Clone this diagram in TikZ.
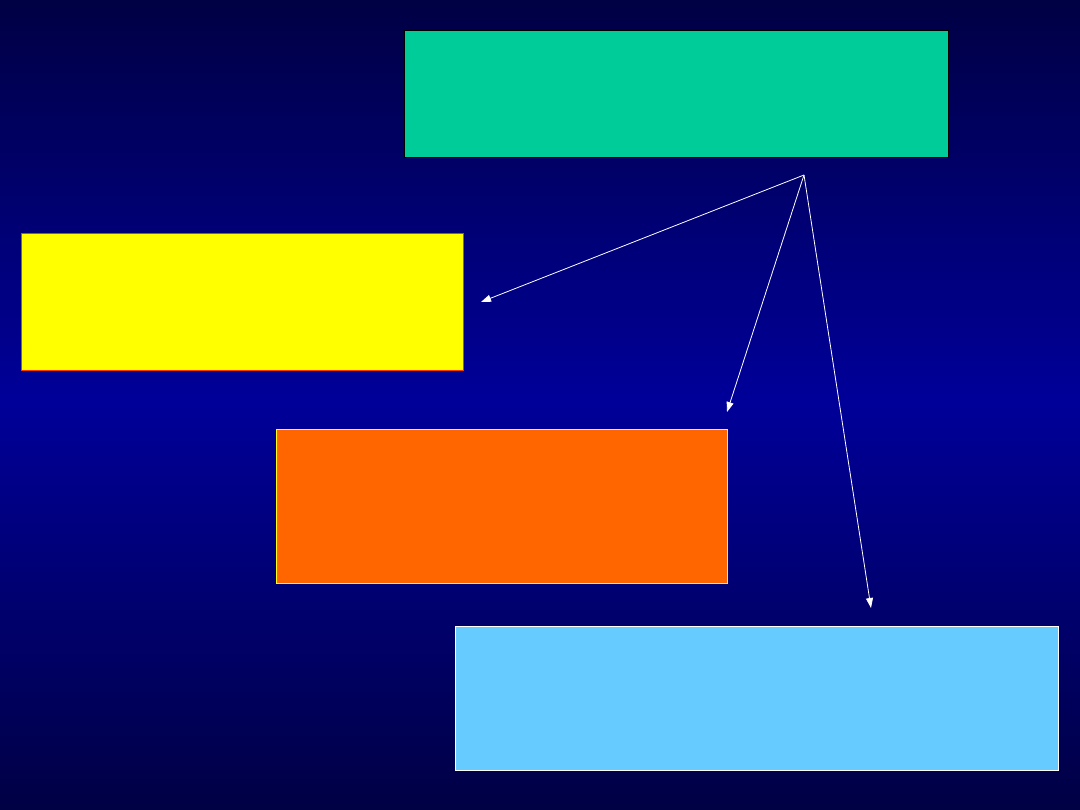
\documentclass[tikz,border=0pt]{standalone}
\usetikzlibrary{arrows.meta}
\definecolor{bgdark}{HTML}{000044}
\definecolor{bgmid}{HTML}{000099}
\definecolor{boxgreen}{HTML}{00CC99}
\definecolor{boxyellow}{HTML}{FFFF00}
\definecolor{boxorange}{HTML}{FF6600}
\definecolor{boxblue}{HTML}{66CCFF}
\definecolor{edgered}{HTML}{FF3300}
\tikzset{
  panel/.style={rectangle, anchor=north west, inner sep=0pt, outer sep=0pt, line width=1pt},
  link/.style={white, line width=0.8pt, -{Triangle[length=10pt,width=7pt]}}
}
\begin{document}
\begin{tikzpicture}[x=1pt,y=-1pt]
\useasboundingbox (0,0) rectangle (1080,810);
\shade[top color=bgdark, bottom color=bgmid] (0,0) rectangle (1080,400);
\shade[top color=bgmid, bottom color=bgdark] (0,400) rectangle (1080,810);
\node[panel, draw=black, fill=boxgreen, minimum width=544pt, minimum height=127pt] (green) at (404,31) {};
\node[panel, draw=edgered, fill=boxyellow, minimum width=442pt, minimum height=137pt] (yellow) at (21,234) {};
\node[panel, draw=boxyellow, fill=boxorange, minimum width=451pt, minimum height=153pt] (orange) at (276,430) {};
\node[panel, draw=white, fill=boxblue, minimum width=603pt, minimum height=144pt] (blue) at (455,626) {};
\coordinate (src) at (804,175);
\coordinate (t1) at (481,302);
\coordinate (t2) at (727,412);
\coordinate (t3) at (871,608);
\draw[link] (src) -- (t1);
\draw[link] (src) -- (t2);
\draw[link] (src) -- (t3);
\end{tikzpicture}
\end{document}
